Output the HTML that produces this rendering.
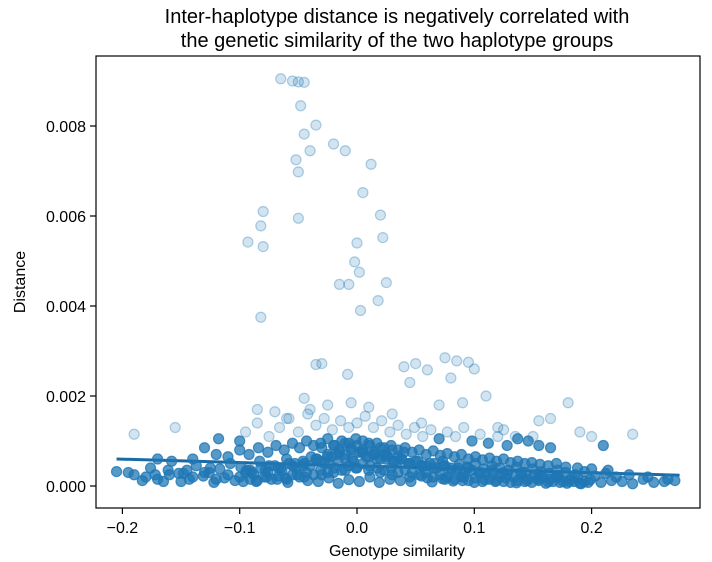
<!DOCTYPE html>
<html><head><meta charset="utf-8"><style>
html,body{margin:0;padding:0;background:#fff;}
svg{display:block;font-family:"Liberation Sans","DejaVu Sans",sans-serif;}
</style></head><body>
<svg id="chart" width="712" height="562" xmlns="http://www.w3.org/2000/svg">
<text x="397" y="23" text-anchor="middle" font-size="20">Inter-haplotype distance is negatively correlated with</text>
<text x="397" y="47" text-anchor="middle" font-size="20">the genetic similarity of the two haplotype groups</text>
<g id="plot"></g>
<rect x="96" y="56" width="604" height="452" fill="none" stroke="#000" stroke-width="1.2"/>
<text x="397" y="556" text-anchor="middle" font-size="16">Genotype similarity</text>
<text x="25" y="282" text-anchor="middle" font-size="16" transform="rotate(-90 25 282)">Distance</text>
</svg>
<script>
var xTicks=[-0.2,-0.1,0.0,0.1,0.2];
var xTickLabels=["\u22120.2","\u22120.1","0.0","0.1","0.2"];
var yTicks=[0,2,4,6,8];
var yTickLabels=["0.000","0.002","0.004","0.006","0.008"];
var fitX=[-0.205,0.275];
var fitY=[0.60,0.24];
// distances in units of 1e-3
var simX=[
-0.065,-0.055,-0.05,-0.045,-0.035,-0.045,-0.02,-0.01,0.012,-0.04,-0.05,-0.052,-0.048,0.005,-0.08,-0.082,-0.08,-0.093,-0.05,0.02,0.022,0.0,-0.002,0.002,-0.015,-0.007,0.025,0.018,0.003,-0.082,-0.03,-0.035,-0.008,0.04,0.05,0.06,0.075,0.085,0.095,0.1,0.08,0.045,0.11,0.18,-0.045,
-0.205,-0.195,-0.183,-0.172,-0.165,-0.152,-0.143,-0.131,-0.122,-0.113,-0.104,-0.095,-0.086,-0.077,-0.068,-0.059,-0.051,-0.042,-0.033,-0.024,-0.016,-0.007,0.002,0.011,0.019,0.028,0.037,0.046,0.055,0.064,0.073,0.082,0.091,0.1,0.109,0.118,0.127,0.136,0.145,0.154,0.163,0.172,0.181,0.19,0.199,0.208,0.217,0.226,0.235,0.244,0.253,0.262,0.271,
-0.19,-0.176,-0.161,-0.148,-0.137,-0.126,-0.117,-0.108,-0.099,-0.091,-0.083,-0.075,-0.067,-0.06,-0.053,-0.046,-0.039,-0.031,-0.024,-0.017,-0.01,-0.003,0.004,0.01,0.017,0.024,0.031,0.038,0.045,0.052,0.059,0.066,0.073,0.08,0.087,0.094,0.101,0.108,0.115,0.122,0.129,0.136,0.143,0.15,0.157,0.164,0.171,0.178,0.186,0.194,0.203,0.212,0.221,0.232,0.248,0.265,
-0.158,-0.14,-0.12,-0.11,-0.1,-0.092,-0.084,-0.076,-0.069,-0.062,-0.055,-0.049,-0.043,-0.037,-0.031,-0.025,-0.019,-0.013,-0.007,-0.001,0.005,0.011,0.017,0.023,0.029,0.035,0.041,0.047,0.053,0.059,0.065,0.071,0.077,0.083,0.089,0.095,0.101,0.107,0.113,0.119,0.125,0.131,0.137,0.143,0.149,0.156,0.163,0.17,0.178,0.188,0.2,0.214,
-0.095,-0.085,-0.075,-0.066,-0.058,-0.05,-0.042,-0.035,-0.028,-0.021,-0.014,-0.007,0.0,0.007,0.014,0.021,0.028,0.035,0.042,0.049,0.056,0.063,0.07,0.077,0.084,0.091,0.098,0.105,0.112,0.12,0.128,0.137,0.146,0.155,0.165,
-0.09,-0.078,-0.065,-0.055,-0.045,-0.035,-0.025,-0.015,-0.005,0.005,0.015,0.025,0.035,0.045,0.055,0.065,0.075,0.085,0.095,0.105,0.115,0.125,0.14,0.155,0.17,
-0.06,-0.045,-0.03,-0.02,-0.01,0.0,0.01,0.02,0.03,0.045,0.06,0.075,0.09,
-0.19,-0.17,-0.155,-0.13,-0.118,-0.085,-0.07,-0.06,-0.04,-0.025,-0.005,0.01,0.03,0.055,0.07,0.09,0.12,0.135,0.155,0.165,0.19,0.2,0.21,0.235,0.15,0.125,-0.1,
-0.1,-0.094,-0.088,-0.082,-0.076,-0.07,-0.064,-0.058,-0.052,-0.046,-0.04,-0.034,-0.028,-0.022,-0.016,-0.01,-0.004,0.002,0.008,0.014,0.02,0.026,0.032,0.038,0.044,0.05,0.056,0.062,0.068,0.074,0.08,0.086,0.092,0.098,0.104,0.11,0.116,0.122,0.128,0.134,0.14,0.146,0.152,0.158,0.164,0.17,0.176,0.182,0.188,0.194,
-0.097,-0.091,-0.085,-0.079,-0.073,-0.067,-0.061,-0.055,-0.049,-0.043,-0.037,-0.031,-0.025,-0.019,-0.013,-0.007,-0.001,0.005,0.011,0.017,0.023,0.029,0.035,0.041,0.047,0.053,0.059,0.065,0.071,0.077,0.083,0.089,0.095,0.101,0.107,0.113,0.119,0.125,0.131,0.137,0.143,0.149,0.155,0.161,0.167,0.173,0.179,0.185,0.191,0.197,
-0.03,-0.02,-0.01,0.0,0.01,0.02,0.03,0.04,-0.025,-0.015,-0.005,0.005,0.015,0.025,0.035,
-0.17,-0.16,-0.15,-0.14,-0.13,-0.12,-0.11,-0.18,-0.145,-0.125
];
var simY=[
9.05,9.0,8.98,8.97,8.02,7.82,7.6,7.45,7.15,7.45,6.98,7.25,8.45,6.52,6.1,5.78,5.32,5.42,5.95,6.02,5.52,5.4,4.98,4.75,4.48,4.48,4.52,4.12,3.9,3.75,2.72,2.7,2.48,2.65,2.72,2.58,2.85,2.78,2.75,2.6,2.4,2.3,2.0,1.85,1.95,
0.32,0.3,0.12,0.25,0.1,0.28,0.15,0.22,0.08,0.18,0.12,0.3,0.1,0.2,0.15,0.08,0.25,0.12,0.1,0.18,0.06,0.14,0.1,0.2,0.08,0.15,0.12,0.1,0.22,0.09,0.16,0.11,0.2,0.08,0.14,0.1,0.18,0.07,0.12,0.15,0.09,0.2,0.1,0.06,0.14,0.08,0.12,0.1,0.05,0.15,0.08,0.1,0.12,
0.25,0.4,0.35,0.28,0.45,0.3,0.38,0.5,0.42,0.35,0.55,0.45,0.4,0.6,0.5,0.45,0.65,0.55,0.5,0.7,0.6,0.55,0.75,0.65,0.6,0.7,0.55,0.6,0.5,0.55,0.45,0.5,0.55,0.4,0.48,0.42,0.5,0.38,0.45,0.4,0.35,0.42,0.3,0.38,0.32,0.28,0.35,0.3,0.25,0.32,0.22,0.28,0.2,0.25,0.2,0.15,
0.55,0.6,0.7,0.65,0.8,0.7,0.85,0.75,0.9,0.8,0.95,0.85,1.0,0.9,0.95,1.05,0.9,1.0,0.95,1.05,1.0,0.9,0.95,0.85,0.9,0.8,0.85,0.75,0.8,0.7,0.78,0.68,0.72,0.65,0.7,0.6,0.65,0.58,0.62,0.55,0.6,0.52,0.55,0.5,0.52,0.48,0.45,0.5,0.42,0.4,0.38,0.35,
1.2,1.4,1.1,1.3,1.5,1.2,1.6,1.35,1.5,1.25,1.45,1.3,1.4,1.55,1.3,1.45,1.2,1.35,1.15,1.3,1.1,1.25,1.05,1.2,1.1,1.3,1.0,1.15,0.95,1.1,0.9,1.05,1.0,0.9,0.85,
0.3,0.35,0.4,0.45,0.5,0.6,0.65,0.75,0.8,0.75,0.7,0.6,0.55,0.5,0.45,0.4,0.45,0.35,0.4,0.3,0.35,0.3,0.25,0.2,0.2,
0.15,0.2,0.25,0.3,0.35,0.4,0.35,0.3,0.25,0.2,0.18,0.15,0.12,
1.15,0.6,1.3,0.85,1.05,1.7,1.65,1.5,1.7,1.8,1.85,1.75,1.6,1.4,1.8,1.85,1.3,1.1,1.45,1.5,1.2,1.1,0.9,1.15,1.1,1.25,1.0,
0.2,0.35,0.25,0.4,0.3,0.45,0.35,0.5,0.4,0.55,0.45,0.6,0.5,0.65,0.55,0.7,0.6,0.75,0.65,0.7,0.6,0.65,0.55,0.6,0.5,0.55,0.45,0.5,0.4,0.45,0.35,0.4,0.3,0.35,0.3,0.25,0.3,0.2,0.25,0.2,0.3,0.15,0.25,0.2,0.15,0.2,0.1,0.15,0.2,0.1,
0.1,0.15,0.12,0.2,0.15,0.22,0.18,0.25,0.2,0.3,0.25,0.35,0.3,0.4,0.35,0.45,0.4,0.5,0.45,0.4,0.35,0.4,0.3,0.35,0.3,0.25,0.3,0.2,0.25,0.2,0.15,0.2,0.12,0.18,0.1,0.15,0.12,0.1,0.08,0.12,0.1,0.08,0.12,0.06,0.1,0.08,0.06,0.1,0.05,0.08,
0.85,0.9,0.95,0.9,0.95,0.85,0.8,0.75,0.7,0.8,0.85,0.8,0.75,0.7,0.65,
0.15,0.25,0.1,0.2,0.3,0.15,0.25,0.2,0.35,0.4
];
var SVGNS="http://www.w3.org/2000/svg";
var plotG=document.getElementById("plot");
function xScale(v){return 357+(v/0.1)*117.3;}
function yScale(v){return 486-v*45;}
function mk(tag){var e=document.createElementNS(SVGNS,tag);plotG.appendChild(e);return e;}
var i,e;
for(i=0;i<xTicks.length;i++){
  try{
  e=mk("line");
  e.setAttribute("x1",xScale(xTicks[i]));e.setAttribute("x2",xScale(xTicks[i]));
  e.setAttribute("y1",508);e.setAttribute("y2",514);
  e.setAttribute("stroke","#000");e.setAttribute("stroke-width","1.2");
  
  
  e=mk("text");
  e.setAttribute("x",xScale(xTicks[i]));e.setAttribute("y",533);
  e.setAttribute("text-anchor","middle");e.setAttribute("font-size","16");
  e.textContent=xTickLabels[i];
  
  
  }catch(err){}
}
for(i=0;i<yTicks.length;i++){
  try{
  e=mk("line");
  e.setAttribute("x1",90);e.setAttribute("x2",96);
  e.setAttribute("y1",yScale(yTicks[i]));e.setAttribute("y2",yScale(yTicks[i]));
  e.setAttribute("stroke","#000");e.setAttribute("stroke-width","1.2");
  
  
  e=mk("text");
  e.setAttribute("x",86);e.setAttribute("y",yScale(yTicks[i])+6);
  e.setAttribute("text-anchor","end");e.setAttribute("font-size","16");
  e.textContent=yTickLabels[i];
  
  
  }catch(err){}
}
try{
e=mk("line");
e.setAttribute("x1",xScale(fitX[0]));e.setAttribute("y1",yScale(fitY[0]));
e.setAttribute("x2",xScale(fitX[1]));e.setAttribute("y2",yScale(fitY[1]));
e.setAttribute("stroke","#1a6aa6");e.setAttribute("stroke-width","3");


}catch(err){}
var n=Math.min(simX.length,simY.length);
for(i=0;i<n;i++){
  try{
  var dense=simY[i]<1.1;
  e=mk("circle");
  e.setAttribute("cx",xScale(simX[i]));e.setAttribute("cy",yScale(simY[i]));
  e.setAttribute("r","5");
  e.setAttribute("fill","#1f77b4");e.setAttribute("fill-opacity",dense?"0.75":"0.2");
  e.setAttribute("stroke","#1f77b4");e.setAttribute("stroke-opacity",dense?"0.8":"0.35");
  e.setAttribute("stroke-width","1.2");
  
  
  }catch(err){}
}
</script>
</body></html>
